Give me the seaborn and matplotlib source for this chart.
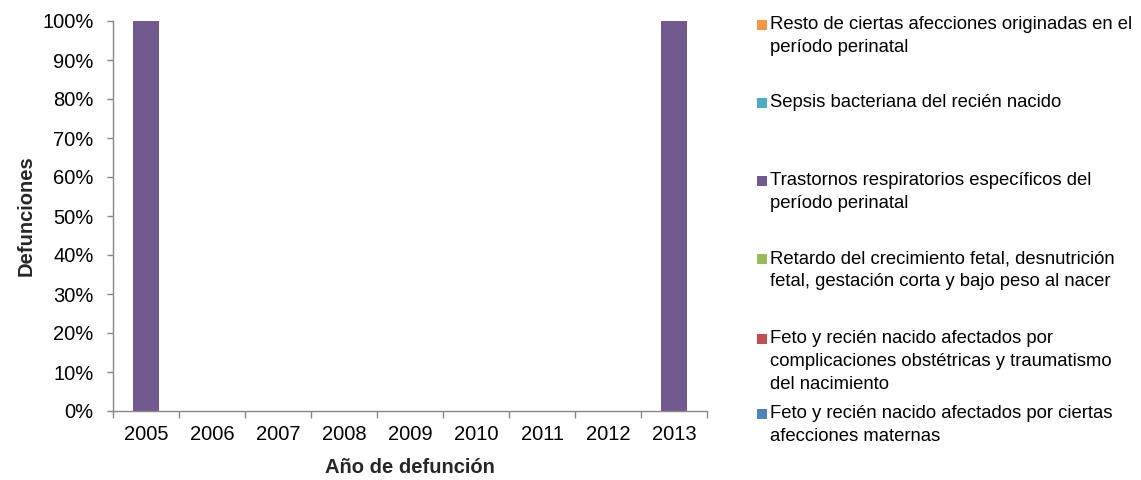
import matplotlib
matplotlib.use("Agg")
import matplotlib.pyplot as plt
from matplotlib.patches import Rectangle
import pandas as pd
import seaborn as sns

sns.set_theme(style="white")
plt.rcParams["font.family"] = ["Liberation Sans", "DejaVu Sans"]

years = [2005, 2006, 2007, 2008, 2009, 2010, 2011, 2012, 2013]

# Percentage share of deaths per cause and year (100% stacked)
maternas = [0, 0, 0, 0, 0, 0, 0, 0, 0]
complicaciones = [0, 0, 0, 0, 0, 0, 0, 0, 0]
retardo = [0, 0, 0, 0, 0, 0, 0, 0, 0]
respiratorios = [100, 0, 0, 0, 0, 0, 0, 0, 100]
sepsis = [0, 0, 0, 0, 0, 0, 0, 0, 0]
resto = [0, 0, 0, 0, 0, 0, 0, 0, 0]

causes = [
    "Feto y recién nacido afectados por ciertas\nafecciones maternas",
    "Feto y recién nacido afectados por\ncomplicaciones obstétricas y traumatismo\ndel nacimiento",
    "Retardo del crecimiento fetal, desnutrición\nfetal, gestación corta y bajo peso al nacer",
    "Trastornos respiratorios específicos del\nperíodo perinatal",
    "Sepsis bacteriana del recién nacido",
    "Resto de ciertas afecciones originadas en el\nperíodo perinatal",
]
colors = ["#4F81BD", "#C0504D", "#9BBB59", "#725A90", "#4BACC6", "#F79646"]
series = [maternas, complicaciones, retardo, respiratorios, sepsis, resto]

rows = []
for cause, vals in zip(causes, series):
    for y, v in zip(years, vals):
        rows.append({"year": y, "cause": cause, "share": v})
df = pd.DataFrame(rows)

W, H = 1141, 480
fig = plt.figure(figsize=(W / 100, H / 100), dpi=100)
ax = fig.add_axes([113 / W, 1 - 411 / H, 594 / W, 390 / H])

sns.histplot(
    data=df, x="year", weights="share", hue="cause", hue_order=causes,
    palette=colors, multiple="stack", discrete=True, shrink=0.39,
    alpha=1, linewidth=0, legend=False, ax=ax,
)

ax.set_xlim(years[0] - 0.5, years[-1] + 0.5)
ax.set_ylim(0, 100)
ax.set_yticks(range(0, 101, 10))
ax.set_yticklabels([f"{v}%" for v in range(0, 101, 10)])
ax.set_xticks(years)
ax.set_xticklabels([str(y) for y in years])
ax.set_xticks([y - 0.5 for y in years] + [years[-1] + 0.5], minor=True)

grey = "#868686"
for side in ["top", "right"]:
    ax.spines[side].set_visible(False)
for side in ["left", "bottom"]:
    ax.spines[side].set_color(grey)
    ax.spines[side].set_linewidth(1)

ax.tick_params(axis="y", which="major", length=4, width=1, color=grey,
               direction="out", left=True, labelsize=14.5, labelcolor="black", pad=10)
ax.tick_params(axis="x", which="major", length=0, labelsize=14.5,
               labelcolor="black", pad=10)
ax.tick_params(axis="x", which="minor", length=5, width=1, color=grey,
               direction="out", bottom=True)

ax.set_xlabel("Año de defunción", fontsize=14.5, fontweight="bold", labelpad=10)
ax.set_ylabel("Defunciones", fontsize=14.5, fontweight="bold", labelpad=5)

# Legend drawn in figure pixels, top entry = last series
legend_rows = [25, 103, 181, 259, 339, 414]
for yc, cause, col in zip(legend_rows, causes[::-1], colors[::-1]):
    fig.patches.append(Rectangle((757 / W, 1 - (yc + 5) / H), 10 / W, 10 / H,
                                 transform=fig.transFigure, facecolor=col,
                                 edgecolor="none"))
    fig.text(770 / W, 1 - (yc - 9) / H, cause, fontsize=13.3, va="top",
             ha="left", linespacing=1.45, color="black")

fig.savefig("out.png", dpi=100)
